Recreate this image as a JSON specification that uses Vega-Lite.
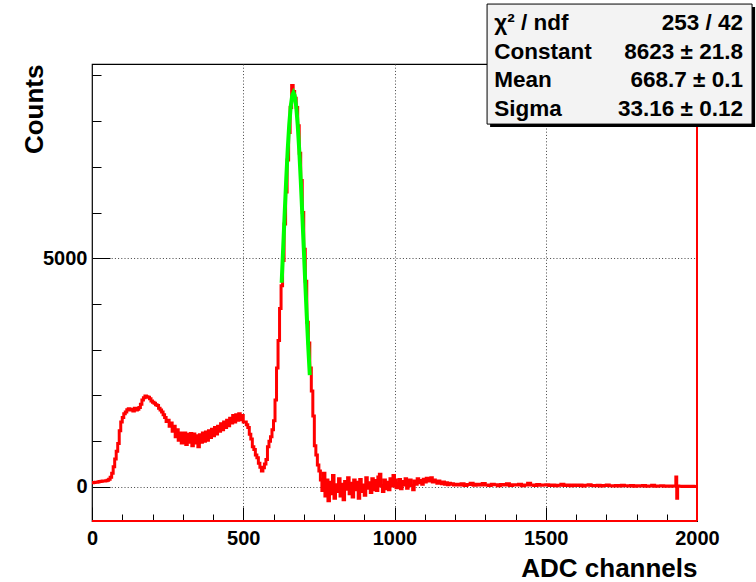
{
  "$schema": "https://vega.github.io/schema/vega-lite/v6.json",
  "width": 605,
  "height": 457,
  "autosize": {"type": "none"},
  "padding": {"left": 92, "top": 64, "right": 59, "bottom": 61},
  "background": "white",
  "config": {"view": {"stroke": "black", "strokeWidth": 1.2}, "font": "Liberation Sans"},
  "datasets": {
    "hist": [
      {"ch":0,"counts":90},{"ch":5,"counts":95},{"ch":10,"counts":100},{"ch":15,"counts":105},{"ch":20,"counts":115},{"ch":25,"counts":120},{"ch":30,"counts":125},{"ch":35,"counts":130},{"ch":40,"counts":128},{"ch":45,"counts":135},{"ch":50,"counts":148},{"ch":55,"counts":170},{"ch":60,"counts":210},{"ch":65,"counts":300},{"ch":70,"counts":440},{"ch":75,"counts":610},{"ch":80,"counts":780},{"ch":85,"counts":950},{"ch":90,"counts":1230},{"ch":95,"counts":1420},
      {"ch":100,"counts":1520},{"ch":105,"counts":1600},{"ch":110,"counts":1640},{"ch":115,"counts":1690},{"ch":120,"counts":1710},{"ch":125,"counts":1680},{"ch":130,"counts":1700},{"ch":135,"counts":1660},{"ch":140,"counts":1720},{"ch":145,"counts":1680},{"ch":150,"counts":1700},{"ch":155,"counts":1740},{"ch":160,"counts":1810},{"ch":165,"counts":1900},{"ch":170,"counts":1950},{"ch":175,"counts":1990},{"ch":180,"counts":1970},{"ch":185,"counts":1960},{"ch":190,"counts":1930},{"ch":195,"counts":1880},
      {"ch":200,"counts":1850},{"ch":205,"counts":1830},{"ch":210,"counts":1800},{"ch":215,"counts":1780},{"ch":220,"counts":1720},{"ch":225,"counts":1680},{"ch":230,"counts":1640},{"ch":235,"counts":1580},{"ch":240,"counts":1520},{"ch":245,"counts":1430},{"ch":250,"counts":1460},{"ch":255,"counts":1330},{"ch":260,"counts":1400},{"ch":265,"counts":1220},{"ch":270,"counts":1330},{"ch":275,"counts":1100},{"ch":280,"counts":1250},{"ch":285,"counts":1020},{"ch":290,"counts":1180},{"ch":295,"counts":960},
      {"ch":300,"counts":1100},{"ch":305,"counts":1180},{"ch":310,"counts":930},{"ch":315,"counts":1150},{"ch":320,"counts":980},{"ch":325,"counts":1170},{"ch":330,"counts":900},{"ch":335,"counts":1160},{"ch":340,"counts":960},{"ch":345,"counts":1120},{"ch":350,"counts":880},{"ch":355,"counts":1140},{"ch":360,"counts":980},{"ch":365,"counts":1180},{"ch":370,"counts":1000},{"ch":375,"counts":1200},{"ch":380,"counts":1020},{"ch":385,"counts":1230},{"ch":390,"counts":1080},{"ch":395,"counts":1260},
      {"ch":400,"counts":1120},{"ch":405,"counts":1300},{"ch":410,"counts":1160},{"ch":415,"counts":1330},{"ch":420,"counts":1220},{"ch":425,"counts":1380},{"ch":430,"counts":1250},{"ch":435,"counts":1420},{"ch":440,"counts":1300},{"ch":445,"counts":1460},{"ch":450,"counts":1340},{"ch":455,"counts":1500},{"ch":460,"counts":1400},{"ch":465,"counts":1560},{"ch":470,"counts":1420},{"ch":475,"counts":1580},{"ch":480,"counts":1460},{"ch":485,"counts":1600},{"ch":490,"counts":1470},{"ch":495,"counts":1560},
      {"ch":500,"counts":1420},{"ch":505,"counts":1420},{"ch":510,"counts":1360},{"ch":515,"counts":1300},{"ch":520,"counts":1150},{"ch":525,"counts":1050},{"ch":530,"counts":880},{"ch":535,"counts":820},{"ch":540,"counts":700},{"ch":545,"counts":640},{"ch":550,"counts":520},{"ch":555,"counts":430},{"ch":560,"counts":350},{"ch":565,"counts":420},{"ch":570,"counts":500},{"ch":575,"counts":600},{"ch":580,"counts":880},{"ch":585,"counts":1000},{"ch":590,"counts":1100},{"ch":595,"counts":1250},
      {"ch":600,"counts":1450},{"ch":605,"counts":1900},{"ch":610,"counts":2600},{"ch":615,"counts":3200},{"ch":620,"counts":3900},{"ch":625,"counts":4400},{"ch":630,"counts":4950},{"ch":635,"counts":5750},{"ch":640,"counts":6450},{"ch":645,"counts":7150},{"ch":650,"counts":7750},{"ch":655,"counts":8300},{"ch":660,"counts":8780},{"ch":665,"counts":8650},{"ch":670,"counts":8500},{"ch":675,"counts":8300},{"ch":680,"counts":7900},{"ch":685,"counts":7300},{"ch":690,"counts":6700},{"ch":695,"counts":6000},
      {"ch":700,"counts":5200},{"ch":705,"counts":4500},{"ch":710,"counts":3600},{"ch":715,"counts":3150},{"ch":720,"counts":2600},{"ch":725,"counts":2100},{"ch":730,"counts":1550},{"ch":735,"counts":900},{"ch":740,"counts":700},{"ch":745,"counts":480},{"ch":750,"counts":350},{"ch":755,"counts":150},{"ch":760,"counts":-80},{"ch":765,"counts":300},{"ch":770,"counts":-200},{"ch":775,"counts":150},{"ch":780,"counts":-300},{"ch":785,"counts":100},{"ch":790,"counts":-150},{"ch":795,"counts":250},
      {"ch":800,"counts":-250},{"ch":805,"counts":50},{"ch":810,"counts":-100},{"ch":815,"counts":180},{"ch":820,"counts":-200},{"ch":825,"counts":60},{"ch":830,"counts":-280},{"ch":835,"counts":120},{"ch":840,"counts":-50},{"ch":845,"counts":200},{"ch":850,"counts":-150},{"ch":855,"counts":80},{"ch":860,"counts":-220},{"ch":865,"counts":150},{"ch":870,"counts":-60},{"ch":875,"counts":100},{"ch":880,"counts":-250},{"ch":885,"counts":160},{"ch":890,"counts":-100},{"ch":895,"counts":40},
      {"ch":900,"counts":-180},{"ch":905,"counts":200},{"ch":910,"counts":-30},{"ch":915,"counts":90},{"ch":920,"counts":-120},{"ch":925,"counts":180},{"ch":930,"counts":-60},{"ch":935,"counts":140},{"ch":940,"counts":-80},{"ch":945,"counts":220},{"ch":950,"counts":280},{"ch":955,"counts":20},{"ch":960,"counts":-100},{"ch":965,"counts":150},{"ch":970,"counts":-40},{"ch":975,"counts":100},{"ch":980,"counts":-60},{"ch":985,"counts":180},{"ch":990,"counts":20},{"ch":995,"counts":250},
      {"ch":1000,"counts":150},{"ch":1005,"counts":-20},{"ch":1010,"counts":80},{"ch":1015,"counts":160},{"ch":1020,"counts":-40},{"ch":1025,"counts":120},{"ch":1030,"counts":40},{"ch":1035,"counts":180},{"ch":1040,"counts":-30},{"ch":1045,"counts":90},{"ch":1050,"counts":150},{"ch":1055,"counts":30},{"ch":1060,"counts":-60},{"ch":1065,"counts":130},{"ch":1070,"counts":60},{"ch":1075,"counts":180},{"ch":1080,"counts":90},{"ch":1085,"counts":140},{"ch":1090,"counts":60},{"ch":1095,"counts":170},
      {"ch":1100,"counts":110},{"ch":1105,"counts":190},{"ch":1110,"counts":130},{"ch":1115,"counts":160},{"ch":1120,"counts":200},{"ch":1125,"counts":110},{"ch":1130,"counts":150},{"ch":1135,"counts":120},{"ch":1140,"counts":80},{"ch":1145,"counts":130},{"ch":1150,"counts":100},{"ch":1155,"counts":70},{"ch":1160,"counts":110},{"ch":1165,"counts":60},{"ch":1170,"counts":90},{"ch":1175,"counts":50},{"ch":1180,"counts":80},{"ch":1185,"counts":60},{"ch":1190,"counts":70},{"ch":1195,"counts":40},
      {"ch":1200,"counts":60},{"ch":1210,"counts":40},{"ch":1220,"counts":70},{"ch":1230,"counts":30},{"ch":1240,"counts":55},{"ch":1250,"counts":80},{"ch":1260,"counts":35},{"ch":1270,"counts":60},{"ch":1280,"counts":40},{"ch":1290,"counts":75},{"ch":1300,"counts":45},{"ch":1310,"counts":30},{"ch":1320,"counts":60},{"ch":1330,"counts":50},{"ch":1340,"counts":25},{"ch":1350,"counts":55},{"ch":1360,"counts":40},{"ch":1370,"counts":70},{"ch":1380,"counts":30},{"ch":1390,"counts":50},
      {"ch":1400,"counts":45},{"ch":1410,"counts":60},{"ch":1420,"counts":25},{"ch":1430,"counts":45},{"ch":1440,"counts":80},{"ch":1450,"counts":40},{"ch":1460,"counts":30},{"ch":1470,"counts":55},{"ch":1480,"counts":35},{"ch":1490,"counts":40},{"ch":1500,"counts":50},{"ch":1510,"counts":30},{"ch":1520,"counts":45},{"ch":1530,"counts":25},{"ch":1540,"counts":35},{"ch":1550,"counts":60},{"ch":1560,"counts":30},{"ch":1570,"counts":40},{"ch":1580,"counts":25},{"ch":1590,"counts":45},
      {"ch":1600,"counts":30},{"ch":1610,"counts":40},{"ch":1620,"counts":20},{"ch":1630,"counts":35},{"ch":1640,"counts":50},{"ch":1650,"counts":30},{"ch":1660,"counts":25},{"ch":1670,"counts":35},{"ch":1680,"counts":20},{"ch":1690,"counts":30},{"ch":1700,"counts":40},{"ch":1710,"counts":25},{"ch":1720,"counts":20},{"ch":1730,"counts":30},{"ch":1740,"counts":20},{"ch":1750,"counts":35},{"ch":1760,"counts":25},{"ch":1770,"counts":20},{"ch":1780,"counts":30},{"ch":1790,"counts":15},
      {"ch":1800,"counts":25},{"ch":1810,"counts":20},{"ch":1820,"counts":30},{"ch":1830,"counts":15},{"ch":1840,"counts":20},{"ch":1850,"counts":35},{"ch":1860,"counts":15},{"ch":1870,"counts":20},{"ch":1880,"counts":25},{"ch":1890,"counts":15},{"ch":1900,"counts":20},{"ch":1910,"counts":15},{"ch":1920,"counts":20},{"ch":1930,"counts":220},{"ch":1933,"counts":-250},{"ch":1936,"counts":20},{"ch":1940,"counts":15},{"ch":1950,"counts":10},{"ch":1960,"counts":15},{"ch":1970,"counts":10},{"ch":1980,"counts":15},{"ch":1990,"counts":10},{"ch":2000,"counts":10}
    ],
    "fit": [
      {"ch":627,"counts":4466},{"ch":632,"counts":5230},{"ch":637,"counts":5992},{"ch":642,"counts":6722},{"ch":647,"counts":7376},{"ch":652,"counts":7922},{"ch":657,"counts":8326},{"ch":662,"counts":8564},{"ch":666,"counts":8623},{"ch":670,"counts":8564},{"ch":675,"counts":8326},{"ch":680,"counts":7922},{"ch":685,"counts":7376},{"ch":690,"counts":6722},{"ch":695,"counts":5992},{"ch":700,"counts":5230},{"ch":705,"counts":4466},{"ch":710,"counts":3734},{"ch":715,"counts":3053},{"ch":720,"counts":2444}
    ],
    "stats": [
      {"row":1,"name":"χ² / ndf","val":"253 / 42"},
      {"row":2,"name":"Constant","val":"8623 ± 21.8"},
      {"row":3,"name":"Mean","val":"668.7 ± 0.1"},
      {"row":4,"name":"Sigma","val":"33.16 ± 0.12"}
    ]
  },
  "layer": [
    {
      "layer": [
        {
          "data": {"name": "hist"},
          "mark": {"type": "line", "interpolate": "step-after", "color": "#ff0000", "strokeWidth": 3},
          "encoding": {
            "x": {
              "field": "ch", "type": "quantitative",
              "scale": {"domain": [0, 2000], "nice": false, "zero": false},
              "axis": {
                "title": "ADC channels", "titleFontSize": 26, "titleFontWeight": "bold", "titleColor": "black",
                "titleX": 605, "titleY": 55, "titleAlign": "right", "titleBaseline": "alphabetic", "titleAngle": 0,
                "tickCount": 20,
                "labelExpr": "datum.value % 500 === 0 ? datum.label : ''",
                "format": "d",
                "labelFontSize": 20, "labelFontWeight": "bold", "labelColor": "black", "labelPadding": 21,
                "labelFlush": false, "labelOverlap": false,
                "domain": false,
                "ticks": true, "tickColor": "black", "tickWidth": 1,
                "tickSize": {"condition": {"test": "datum.value % 500 === 0", "value": -14}, "value": -7},
                "grid": true, "gridColor": "#444444", "gridDash": [1, 2.2], "gridWidth": 1,
                "gridOpacity": {"condition": {"test": "datum.value === 500 || datum.value === 1000 || datum.value === 1500", "value": 1}, "value": 0}
              }
            },
            "y": {
              "field": "counts", "type": "quantitative",
              "scale": {"domain": [-745, 9250], "nice": false, "zero": false},
              "axis": {
                "title": "Counts", "titleFontSize": 26, "titleFontWeight": "bold", "titleColor": "black",
                "titleX": -50, "titleY": 0, "titleAlign": "right", "titleBaseline": "alphabetic", "titleAngle": -90,
                "tickCount": 10,
                "labelExpr": "datum.value % 5000 === 0 ? datum.label : ''",
                "format": "d",
                "labelFontSize": 20, "labelFontWeight": "bold", "labelColor": "black", "labelPadding": 23,
                "labelOverlap": false,
                "domain": false,
                "ticks": true, "tickColor": "black", "tickWidth": 1,
                "tickSize": {"condition": {"test": "datum.value % 5000 === 0", "value": -18}, "value": -9},
                "grid": true, "gridColor": "#444444", "gridDash": [1, 2.2], "gridWidth": 1,
                "gridOpacity": {"condition": {"test": "datum.value === 0 || datum.value === 5000", "value": 1}, "value": 0}
              }
            }
          }
        },
        {
          "data": {"name": "fit"},
          "mark": {"type": "line", "color": "#00ff00", "strokeWidth": 4},
          "encoding": {
            "x": {"field": "ch", "type": "quantitative"},
            "y": {"field": "counts", "type": "quantitative"}
          }
        }
      ]
    },
    {
      "data": {"values": [{}]},
      "layer": [
        {
          "mark": {"type": "rule", "color": "#ff0000", "strokeWidth": 2},
          "encoding": {
            "x": {"datum": 0, "type": "quantitative", "scale": {"domain": [0, 2000], "nice": false, "zero": false}, "axis": null},
            "x2": {"datum": 2000},
            "y": {"datum": -745, "type": "quantitative", "scale": {"domain": [-745, 9250], "nice": false, "zero": false}, "axis": null}
          }
        },
        {
          "mark": {"type": "rule", "color": "#ff0000", "strokeWidth": 2},
          "encoding": {"x": {"datum": 2000, "type": "quantitative"}, "y": {"datum": -745, "type": "quantitative"}, "y2": {"datum": 9250}}
        },
        {
          "mark": {"type": "rect", "fill": "black"},
          "encoding": {"x": {"datum": 1316, "type": "quantitative"}, "x2": {"datum": 2192}, "y": {"datum": 10495, "type": "quantitative"}, "y2": {"datum": 7870}}
        },
        {
          "mark": {"type": "rect", "fill": "#f3f3f3", "stroke": "black", "strokeWidth": 1},
          "encoding": {"x": {"datum": 1306, "type": "quantitative"}, "x2": {"datum": 2182}, "y": {"datum": 10561, "type": "quantitative"}, "y2": {"datum": 7936}}
        }
      ]
    },
    {
      "data": {"name": "stats"},
      "layer": [
        {
          "mark": {"type": "text", "align": "left", "baseline": "middle", "fontSize": 22.5, "fontWeight": "bold", "color": "black"},
          "encoding": {
            "x": {"datum": 1330, "type": "quantitative", "scale": {"domain": [0, 2000], "nice": false, "zero": false}, "axis": null},
            "y": {"field": "row", "type": "quantitative", "scale": {"domain": [1, 4], "range": [-41, 45], "zero": false, "nice": false}, "axis": null},
            "text": {"field": "name"}
          }
        },
        {
          "mark": {"type": "text", "align": "right", "baseline": "middle", "fontSize": 22.5, "fontWeight": "bold", "color": "black"},
          "encoding": {
            "x": {"datum": 2152, "type": "quantitative"},
            "y": {"field": "row", "type": "quantitative"},
            "text": {"field": "val"}
          }
        }
      ]
    }
  ],
  "resolve": {"scale": {"x": "independent", "y": "independent"}}
}
